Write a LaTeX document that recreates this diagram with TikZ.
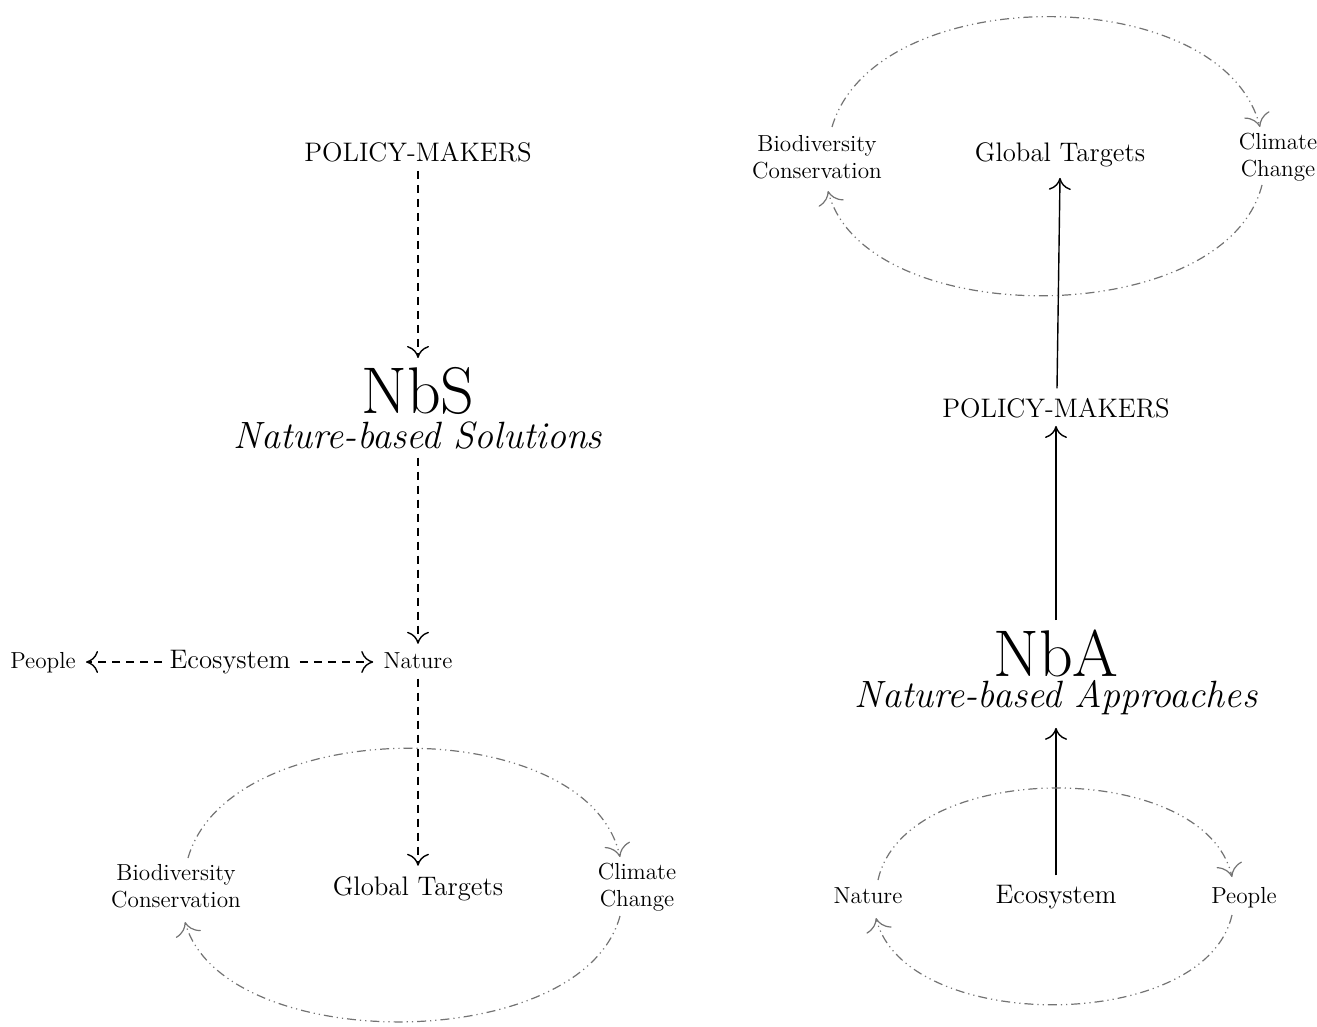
\documentclass[tikz,border=0pt]{standalone}
\usepackage{fontspec}
\usetikzlibrary{arrows.meta}
\begin{document}
\begin{tikzpicture}[x=0.5pt,y=-0.5pt,
  lbl/.style={inner sep=0pt, font=\fontsize{11.6}{13.5}\selectfont, align=center},
  midtxt/.style={inner sep=0pt, font=\fontsize{13.4}{15}\selectfont},
  titletxt/.style={inner sep=0pt, align=center, font=\fontsize{33}{#1}\selectfont},
  dasharrow/.style={line width=0.7pt, dash pattern=on 4pt off 3pt, -{To[length=6pt,width=11pt]}},
  solidarrow/.style={line width=0.7pt, -{To[length=6pt,width=11pt]}},
  cyc/.style={draw=black!55, line width=0.6pt, dash pattern=on 4.5pt off 2pt on 0.6pt off 2pt on 0.6pt off 2pt, -{To[length=6.5pt,width=13pt]}}
]
\useasboundingbox (0,0) rectangle (1317,1027);

% ---------- Left: NbS ----------
\node[midtxt, anchor=base] (pmL) at (418,162) {POLICY-MAKERS};
\node[titletxt=17.5pt, anchor=north] (nbsL) at (418,367) {NbS\\\fontsize{19}{17.5}\selectfont\itshape Nature-based Solutions};
\node[lbl, anchor=base] (natL) at (418,668) {Nature};
\node[midtxt, anchor=base] (ecoL) at (230,668) {Ecosystem};
\node[lbl, anchor=base] (pplL) at (43,668) {People};
\node[midtxt, anchor=base] (gtL) at (418,895) {Global Targets};
\node[lbl] (bcL) at (176,886) {Biodiversity\\Conservation};
\node[lbl] (ccL) at (637,887) {Climate\\Change};

\draw[dasharrow] ([shift={(0,8)}]pmL.south) -- ([shift={(0,-9)}]nbsL.north);
\draw[dasharrow] ([shift={(0,8)}]nbsL.south) -- ([shift={(0,-8)}]natL.north);
\draw[dasharrow] ([shift={(0,10)}]natL.south) -- ([shift={(0,-10)}]gtL.north);
\draw[dasharrow] ([shift={(-7,-6)}]ecoL.base west) -- ([shift={(10,-6)}]pplL.base east);
\draw[dasharrow] ([shift={(9,-6)}]ecoL.base east) -- ([shift={(-10,-6)}]natL.base west);

\draw[cyc] ([shift={(12,-28)}]bcL.center) .. controls +(42,-146) and +(-32,-145) .. ([shift={(-17,-30)}]ccL.center);
\draw[cyc] ([shift={(-17,29)}]ccL.center) .. controls +(-38,140) and +(38,134) .. ([shift={(9,36)}]bcL.center);

% ---------- Right: NbA ----------
\node[midtxt, anchor=base] (gtR) at (1060,162) {Global Targets};
\node[lbl] (bcR) at (817,157) {Biodiversity\\Conservation};
\node[lbl] (ccR) at (1278,157) {Climate\\Change};
\node[midtxt, anchor=base] (pmR) at (1056,417) {POLICY-MAKERS};
\node[titletxt=15.5pt, anchor=north] (nbaR) at (1056,629) {NbA\\\fontsize{19}{15.5}\selectfont\itshape Nature-based Approaches};
\node[midtxt, anchor=base] (ecoR) at (1056,903) {Ecosystem};
\node[lbl, anchor=base] (natR) at (868,903) {Nature};
\node[lbl, anchor=base] (pplR) at (1244,903) {People};

\draw[solidarrow] ([shift={(0,-9)}]ecoR.north) -- ([shift={(0,13)}]nbaR.south);
\draw[solidarrow] ([shift={(0,-9)}]nbaR.north) -- ([shift={(0,8)}]pmR.south);
\draw[solidarrow] ([shift={(1,-9)}]pmR.north) -- ([shift={(0,10)}]gtR.south);

\draw[cyc] ([shift={(15,-30)}]bcR.center) .. controls +(43,-147) and +(-38,-147) .. ([shift={(-18,-30)}]ccR.center);
\draw[cyc] ([shift={(-16,28)}]ccR.center) .. controls +(-37,146) and +(37,141) .. ([shift={(11,34)}]bcR.center);

\draw[cyc] ([shift={(10,-23)}]natR.base) .. controls +(27,-122) and +(-27,-119) .. ([shift={(-12,-26)}]pplR.base);
\draw[cyc] ([shift={(-12,12)}]pplR.base) .. controls +(-27,119) and +(29,116) .. ([shift={(8,15)}]natR.base);
\end{tikzpicture}
\end{document}
